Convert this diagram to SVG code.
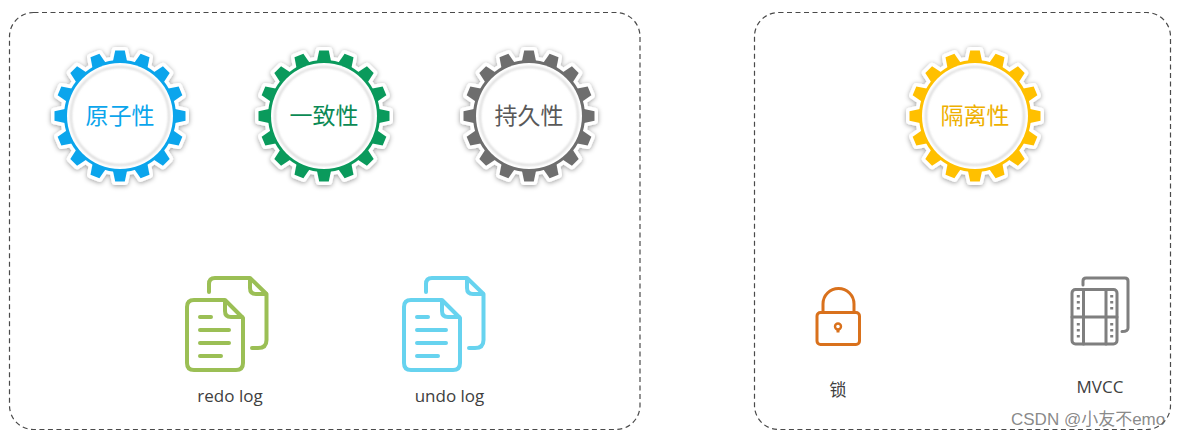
<svg xmlns="http://www.w3.org/2000/svg" xmlns:xlink="http://www.w3.org/1999/xlink" width="1179" height="438" viewBox="0 0 1179 438">
<style>
.box{fill:#fff;stroke:#4a4a4a;stroke-width:1.2;stroke-dasharray:5 3.5}
.gt{font-family:"Noto Sans CJK SC","Noto Sans",sans-serif;font-size:23px;text-anchor:middle}
.lb{font-family:"Open Sans","Noto Sans CJK SC",sans-serif;font-size:17px;fill:#404040;text-anchor:middle}
.line{fill:none;stroke-width:4;stroke-linecap:round;stroke-linejoin:round}
.thin{fill:none;stroke-width:3;stroke-linecap:round;stroke-linejoin:round}
.wm{font-family:"Liberation Sans","Noto Sans CJK SC",sans-serif;font-size:17px;fill:#6a6a6a;fill-opacity:.8}
</style>
<defs>
<filter id="sh" x="-20%" y="-20%" width="140%" height="140%"><feDropShadow dx="0" dy="1" stdDeviation="2.500" flood-color="#000" flood-opacity=".4"/></filter>
<filter id="sh2" x="-20%" y="-20%" width="140%" height="140%"><feGaussianBlur stdDeviation="1"/></filter>
<path id="t" d="M-7.200 -54L-4.800 -65.500H4.800L7.200 -54Z"/>
<g id="teeth">
<circle r="56"/>
<use xlink:href="#t"/><use xlink:href="#t" transform="rotate(22.5)"/><use xlink:href="#t" transform="rotate(45)"/><use xlink:href="#t" transform="rotate(67.5)"/>
<use xlink:href="#t" transform="rotate(90)"/><use xlink:href="#t" transform="rotate(112.5)"/><use xlink:href="#t" transform="rotate(135)"/><use xlink:href="#t" transform="rotate(157.5)"/>
<use xlink:href="#t" transform="rotate(180)"/><use xlink:href="#t" transform="rotate(202.5)"/><use xlink:href="#t" transform="rotate(225)"/><use xlink:href="#t" transform="rotate(247.5)"/>
<use xlink:href="#t" transform="rotate(270)"/><use xlink:href="#t" transform="rotate(292.5)"/><use xlink:href="#t" transform="rotate(315)"/><use xlink:href="#t" transform="rotate(337.5)"/>
</g>
<g id="gear">
<use xlink:href="#teeth" fill="#fff" stroke="#fff" stroke-width="7" stroke-linejoin="round" filter="url(#sh)"/>
<use xlink:href="#teeth" stroke="none"/>
<circle r="53" fill="#fff"/>
<circle r="49" fill="none" stroke="#d0d0d0" stroke-width="1.600" filter="url(#sh2)"/>
</g>
<g id="docs">
<path class="line" d="M209 292V284Q209 278 215 278H250L266.500 294V340Q266.500 348 258 348H252"/>
<path class="line" d="M250 279V288Q250 294 256 294H266"/>
<path class="line" d="M225 300H194Q187 300 187 307V363Q187 370 194 370H236Q243 370 243 363V318Z"/>
<path class="line" d="M225 301V311Q225 317 231 317H242"/>
<path class="line" d="M200 317H211M200 330H229M200 343H229M200 356H221"/>
</g>
</defs>
<g id="left-box"><rect class="box" x="9.500" y="12.500" width="630.500" height="417" rx="24"/></g>
<g id="right-box"><rect class="box" x="754.500" y="12.500" width="416" height="417" rx="24"/></g>
<g id="atomicity" fill="#0ba5ec"><use xlink:href="#gear" transform="translate(120 116)"/><text class="gt" x="120" y="124">原子性</text></g>
<g id="consistency" fill="#0a9a5c"><use xlink:href="#gear" transform="translate(324 116)"/><text class="gt" x="324" y="124" fill="#0b8a55">一致性</text></g>
<g id="durability" fill="#6e6e6e"><use xlink:href="#gear" transform="translate(529 116)"/><text class="gt" x="529" y="124" fill="#595959">持久性</text></g>
<g id="isolation" fill="#ffc000"><use xlink:href="#gear" transform="translate(975 116)"/><text class="gt" x="975" y="124" fill="#eeb000">隔离性</text></g>
<g id="redo-log"><use xlink:href="#docs" stroke="#9bbf55"/><text class="lb" x="230" y="402">redo log</text></g>
<g id="undo-log"><use xlink:href="#docs" stroke="#67d3ef" transform="translate(217 0)"/><text class="lb" x="449.500" y="402">undo log</text></g>
<g id="lock" stroke="#d9711c">
<path class="thin" d="M823 312V304A15.500 15.500 0 0 1 854 304V312"/>
<rect class="thin" x="817" y="312.500" width="42.500" height="32" rx="3.500"/>
<circle cx="838" cy="326.500" r="3" fill="none" stroke-width="2.400"/><path d="M838 329.500V332.500" stroke-width="3" fill="none"/>
<text class="lb" x="838" y="396" stroke="none" font-size="18">锁</text>
</g>
<g id="mvcc" stroke="#7f7f7f">
<path class="thin" d="M1083 285V281Q1083 278 1086 278H1125Q1128 278 1128 281V328Q1128 331.500 1122 331.500"/>
<rect class="thin" x="1072" y="289.500" width="45" height="54.500" rx="3.500"/>
<path class="thin" d="M1083.500 290V344M1106 290V344M1072 317H1117"/>
<path d="M1078.300 295V310M1078.300 323V338M1111.700 295V310M1111.700 323V338" fill="none" stroke-width="3" stroke-dasharray="2.500 3.500"/>
<text class="lb" x="1100" y="393" stroke="none">MVCC</text>
</g>
<text class="wm" x="1011" y="425">CSDN @小友不emo</text>
</svg>
